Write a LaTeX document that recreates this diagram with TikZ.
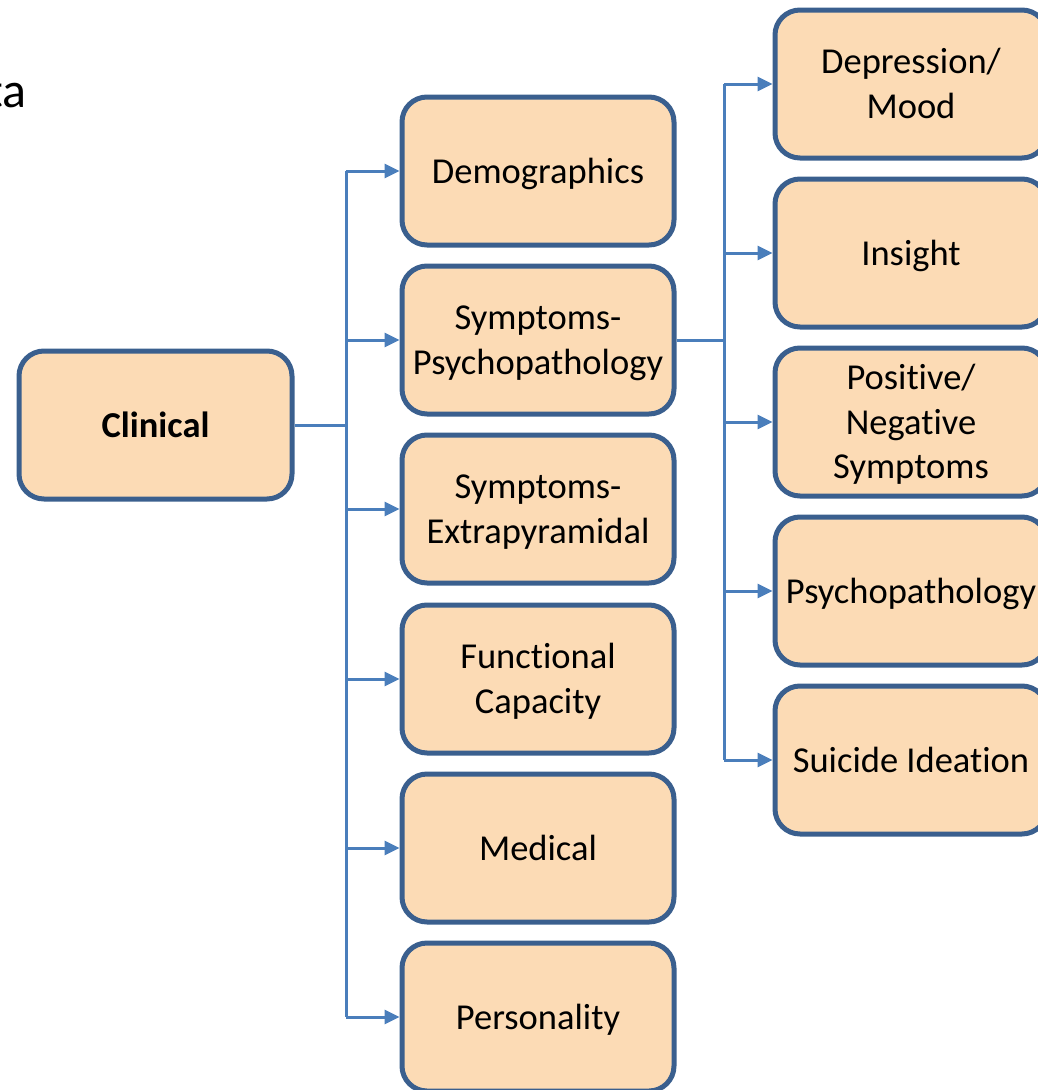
\documentclass[tikz,border=0pt]{standalone}
\usepackage{fontspec}
\setmainfont{Carlito}[Ligatures=NoCommon]
\usetikzlibrary{arrows.meta}
\definecolor{boxfill}{HTML}{FCDBB5}
\definecolor{boxline}{HTML}{3A5F8E}
\definecolor{linkblue}{HTML}{4A7EBB}
% line strut: keeps every text line the same height and depth
\newcommand\ls{\rule[-0.17em]{0pt}{1em}}
\begin{document}
\begin{tikzpicture}[x=1pt,y=-1pt,
  box/.style={draw=boxline, fill=boxfill, line width=5pt, rounded corners=25pt,
    minimum width=272pt, minimum height=148pt, align=center, inner sep=0pt,
    font=\fontsize{36.5}{44.5}\selectfont},
  conn/.style={draw=linkblue, line width=3pt},
  arr/.style={conn, -{Triangle[length=15pt,width=14pt]}}]
\useasboundingbox (0,0) rectangle (1038,1090);
\clip (0,0) rectangle (1038,1090);

% heading fragment
\node[anchor=base east, inner sep=0pt, font=\fontsize{50}{60}\selectfont] (head) at (27,107) {ta};

% root
\node[box, minimum width=273pt] (clin) at (155.5,425) {\ls\textbf{Clinical}};

% first level
\node[box] (demo) at (538,171) {\ls Demographics};
\node[box] (sympp) at (538,340) {\ls Symptoms-\\\ls Psychopathology};
\node[box] (sympe) at (538,509) {\ls Symptoms-\\\ls Extrapyramidal};
\node[box] (func) at (538,679) {\ls Functional\\\ls Capacity};
\node[box] (med) at (538,848) {\ls Medical};
\node[box] (pers) at (538,1017) {\ls Personality};

% second level
\node[box] (dep) at (911,84) {\ls Depression/\\\ls Mood};
\node[box] (ins) at (911,253) {\ls Insight};
\node[box] (posneg) at (911,422) {\ls Positive/\\\ls Negative\\\ls Symptoms};
\node[box] (psy) at (911,591) {\ls Psychopathology};
\node[box] (sui) at (911,760) {\ls Suicide Ideation};

% connectors from the root
\coordinate (j1) at (346,425);
\draw[conn] (clin.east) -- (j1);
\draw[conn] (j1 |- demo.west) -- (j1 |- pers.west);
\foreach \n in {demo,sympp,sympe,func,med,pers}
  \draw[arr] (j1 |- \n.west) -- (\n.west);

% connectors from the symptoms box
\coordinate (j2) at (724,340);
\draw[conn] (sympp.east) -- (j2);
\draw[conn] (j2 |- dep.west) -- (j2 |- sui.west);
\foreach \n in {dep,ins,posneg,psy,sui}
  \draw[arr] (j2 |- \n.west) -- (\n.west);
\end{tikzpicture}
\end{document}
